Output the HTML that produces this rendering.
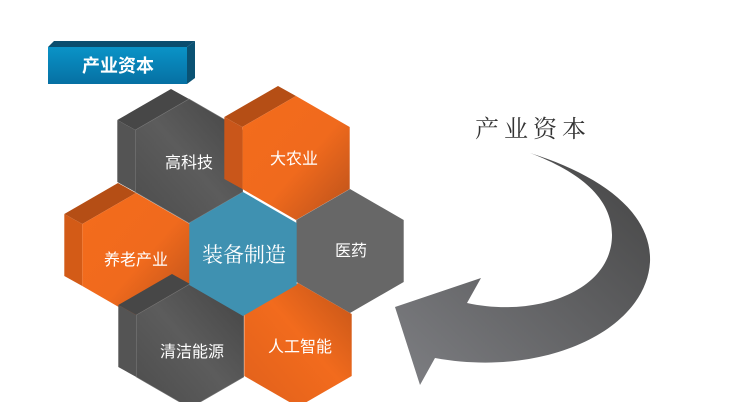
<!DOCTYPE html>
<html><head><meta charset="utf-8"><style>
html,body{margin:0;padding:0;background:#fff;}
svg{display:block;}
text{font-family:"Liberation Sans","Noto Sans CJK SC",sans-serif;}
</style></head><body>
<svg width="733" height="402" viewBox="0 0 733 402" xmlns="http://www.w3.org/2000/svg">
<defs>
<linearGradient id="og" x1="0" y1="0" x2="1" y2="1">
<stop offset="0" stop-color="#f46c1c"/><stop offset="0.55" stop-color="#f06a1d"/><stop offset="1" stop-color="#b8501a"/></linearGradient>
<linearGradient id="og2" x1="1" y1="0" x2="0" y2="1">
<stop offset="0" stop-color="#c25418"/><stop offset="0.45" stop-color="#f26b1d"/><stop offset="1" stop-color="#e0601b"/></linearGradient>
<linearGradient id="gg" x1="1" y1="0" x2="0" y2="1">
<stop offset="0" stop-color="#444"/><stop offset="0.5" stop-color="#5c5c5c"/><stop offset="1" stop-color="#4c4c4c"/></linearGradient>
<linearGradient id="ag" x1="1" y1="0" x2="0" y2="1">
<stop offset="0" stop-color="#444"/><stop offset="1" stop-color="#7e7f83"/></linearGradient>
<linearGradient id="hb" x1="0" y1="0" x2="0" y2="1">
<stop offset="0" stop-color="#0a93c7"/><stop offset="1" stop-color="#0670a3"/></linearGradient>
</defs>

<!-- header box -->
<polygon points="48,47 54,41 195,41 187,47" fill="#0b4d6e"/>
<polygon points="187,47 195,41 195,78 187,84" fill="#0a5273"/>
<rect x="48" y="47" width="139" height="37" fill="url(#hb)"/>
<text x="118" y="72" font-size="18" fill="#fff" text-anchor="middle" font-weight="bold">产业资本</text>

<!-- 高科技 extruded (c=189,161) -->
<polygon points="117.3,120 171,89 189,99 135.3,130" fill="#474747"/>
<polygon points="117.3,120 135.3,130 135.3,192 117.3,182" fill="#545454"/>
<polygon points="189,99 242.7,130 242.7,192 189,223 135.3,192 135.3,130" fill="url(#gg)" stroke="#777" stroke-width="0.6"/>

<!-- 大农业 extruded (c=296,158) -->
<polygon points="224.3,117 278,86 296,96 242.3,127" fill="#b54e15"/>
<polygon points="224.3,117 242.3,127 242.3,189 224.3,179" fill="#c9561a"/>
<polygon points="296,96 349.7,127 349.7,189 296,220 242.3,189 242.3,127" fill="url(#og)"/>

<!-- 养老产业 extruded (c=136,255) -->
<polygon points="64.3,214 118,183 136,193 82.3,224" fill="#b54e15"/>
<polygon points="64.3,214 82.3,224 82.3,286 64.3,276" fill="#d35b17"/>
<polygon points="136,193 189.7,224 189.7,286 136,317 82.3,286 82.3,224" fill="url(#og)"/>

<!-- 医药 flat (c=350,251) -->
<polygon points="350,189 403.7,220 403.7,282 350,313 296.3,282 296.3,220" fill="#676767"/>

<!-- 清洁能源 extruded (c=190,346) -->
<polygon points="118.3,305 172,274 190,284 136.3,315" fill="#474747"/>
<polygon points="118.3,305 136.3,315 136.3,377 118.3,367" fill="#545454"/>
<polygon points="190,284 243.7,315 243.7,377 190,408 136.3,377 136.3,315" fill="url(#gg)" stroke="#777" stroke-width="0.6"/>

<!-- 人工智能 (c=298,345) -->
<polygon points="298,283 351.7,314 351.7,376 298,407 244.3,376 244.3,314" fill="url(#og2)"/>

<!-- center -->
<polygon points="243,192 296.7,223 296.7,285 243,316 189.3,285 189.3,223" fill="#3f91b1"/>

<!-- labels -->
<text x="189" y="168" font-size="16" fill="#fff" text-anchor="middle">高科技</text>
<text x="294" y="164" font-size="16" fill="#fff" text-anchor="middle">大农业</text>
<text x="136" y="265" font-size="16" fill="#fff" text-anchor="middle">养老产业</text>
<text x="244" y="262" font-size="21" fill="#fff" text-anchor="middle" style="font-family:'Liberation Serif','Noto Serif CJK SC',serif">装备制造</text>
<text x="351" y="256" font-size="16" fill="#fff" text-anchor="middle">医药</text>
<text x="192" y="357" font-size="16" fill="#fff" text-anchor="middle">清洁能源</text>
<text x="300" y="352" font-size="16" fill="#fff" text-anchor="middle">人工智能</text>

<!-- arrow -->
<path d="M530,153 C600,175 652,212 650,262 C646,330 545,378 435,358 L420,385 L395,307 L481,278 L467,303 C535,318 612,292 612,235 C612,198 580,172 530,153 Z" fill="url(#ag)"/>

<text x="533" y="137" font-size="24" fill="#333" text-anchor="middle" letter-spacing="5" style="font-family:'Liberation Serif','Noto Serif CJK SC',serif">产业资本</text>
</svg>
</body></html>
